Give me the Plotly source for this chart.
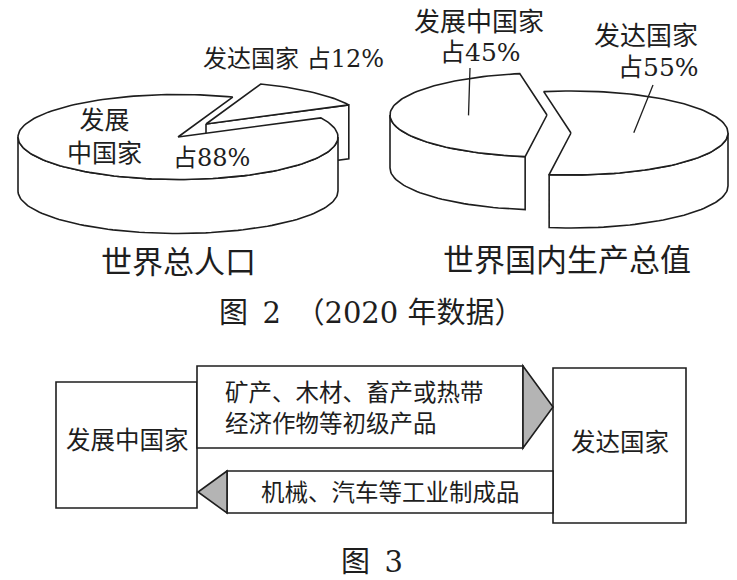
import numpy as np
import plotly.graph_objects as go

# ---------------- data ----------------
pie_groups = ["发展中国家", "发达国家"]
population_share = [88, 12]          # 世界总人口 (%)
gdp_share = [45, 55]                 # 世界国内生产总值 (%)
pie_titles = ["世界总人口", "世界国内生产总值"]
fig2_caption = "图\u20022\u3000（2020 年数据）"
flow_nodes = ["发展中国家", "发达国家"]
flow_exports = ["矿产、木材、畜产或热带", "经济作物等初级产品"]
flow_imports = ["机械、汽车等工业制成品"]
fig3_caption = "图\u20023"

# ---------------- style ----------------
W, H = 737, 580
INK = "#1e1e1e"
LW = 1.6
FONT = "DejaVu Serif, Noto Sans CJK SC"


def arc(cx, cy, rx, ry, a0, a1, dy=0.0):
    n = max(2, int(abs(a1 - a0) / 2) + 1)
    t = np.radians(np.linspace(a0, a1, n))
    return cx + rx * np.cos(t), cy - ry * np.sin(t) + dy


def solid(cx, cy, rx, ry, h, a0, a1, cut_faces):
    polys = []
    if cut_faces:
        for a, vis in ((a0, np.cos(np.radians(a0)) > 0), (a1, np.cos(np.radians(a1)) < 0)):
            if vis:
                ex = cx + rx * np.cos(np.radians(a))
                ey = cy - ry * np.sin(np.radians(a))
                polys.append(([cx, ex, ex, cx, cx], [cy, ey, ey + h, cy + h, cy]))
    for k in range(-1, 3):
        lo, hi = max(a0, 180 + 360 * k), min(a1, 360 + 360 * k)
        if hi > lo:
            xt, yt = arc(cx, cy, rx, ry, lo, hi)
            xb, yb = arc(cx, cy, rx, ry, hi, lo, dy=h)
            polys.append((np.concatenate([xt, xb, xt[:1]]), np.concatenate([yt, yb, yt[:1]])))
    xt, yt = arc(cx, cy, rx, ry, a0, a1)
    polys.append((np.concatenate([[cx], xt, [cx]]), np.concatenate([[cy], yt, [cy]])))
    return polys


fig = go.Figure()


def add_poly(x, y, fill="white"):
    fig.add_trace(go.Scatter(x=list(x), y=list(y), mode="lines", fill="toself",
                             fillcolor=fill, line=dict(color=INK, width=LW),
                             hoverinfo="skip", showlegend=False))


# pie specs: center, radii, thickness, start angle (developed slice first, CCW),
# pull per group [developing, developed], draw order
pies = [
    dict(shares=population_share, c=(178, 137), rx=160, ry=42.5, h=54, start=26.8,
         pull=[(0, 0), (28, -13)], order=[1, 0], cuts=True),
    dict(shares=gdp_share, c=(547, 115), rx=157, ry=42, h=53, start=262,
         pull=[(0, 0), (24, 18)], order=[0, 1], cuts=False),
]

slice_geo = []
for p in pies:
    dev, developed = p["shares"]
    spans = {1: (p["start"], p["start"] + developed * 3.6)}
    spans[0] = (spans[1][1], spans[1][1] + dev * 3.6)
    geo = {}
    for gi in p["order"]:
        a0, a1 = spans[gi]
        cx = p["c"][0] + p["pull"][gi][0]
        cy = p["c"][1] + p["pull"][gi][1]
        pulled = p["cuts"] and p["pull"][gi] != (0, 0)
        for x, y in solid(cx, cy, p["rx"], p["ry"], p["h"], a0, a1, pulled):
            add_poly(x, y)
        geo[gi] = (cx, cy, a0, a1)
    slice_geo.append(geo)

ann = []


def text(x, y, s, size, xanchor="center", align="center"):
    ann.append(dict(x=x, y=y, text=s, xref="x", yref="y", showarrow=False,
                    xanchor=xanchor, yanchor="middle", align=align,
                    font=dict(family=FONT, size=size, color=INK)))


# Pie 1 labels
text(293, 59, f"{pie_groups[1]} 占{population_share[1]}%", 24)
text(104, 137, pie_groups[0][:2] + "<br>" + pie_groups[0][2:], 25)
text(211, 158, f"占{population_share[0]}%", 24)
text(178, 262, pie_titles[0], 31)

# Pie 2 labels
text(479, 22, pie_groups[0], 26)
text(480, 52, f"占{gdp_share[0]}%", 25)
text(646, 36, pie_groups[1], 26)
text(658, 67, f"占{gdp_share[1]}%", 25)
text(567, 260, pie_titles[1], 31)

text(371, 313, fig2_caption, 29)

shapes = []
# leader lines for pie 2 (toward slice middles)
p2 = pies[1]
for gi, (sx, sy), frac in ((0, (470, 68), 0.5), (1, (653, 85), 0.4)):
    cx, cy, a0, a1 = slice_geo[1][gi]
    m = np.radians((a0 + a1) / 2)
    tx = cx + frac * p2["rx"] * np.cos(m)
    ty = cy - frac * p2["ry"] * np.sin(m)
    shapes.append(dict(type="line", xref="x", yref="y", x0=sx, y0=sy, x1=tx, y1=ty,
                       line=dict(color=INK, width=1.3)))

# ---------------- figure 3 flow diagram ----------------
box = dict(type="rect", xref="x", yref="y", fillcolor="white",
           line=dict(color=INK, width=LW), layer="below")
shapes.append(dict(box, x0=56, x1=197, y0=382, y1=508))
shapes.append(dict(box, x0=553, x1=686, y0=368, y1=523))
shapes.append(dict(box, x0=197, x1=523, y0=366, y1=448))
shapes.append(dict(box, x0=227, x1=553, y0=471, y1=513))
shapes.append(dict(type="path", xref="x", yref="y", path="M523,366 L553,407 L523,448 Z",
                   fillcolor="#b4b4b4", line=dict(color=INK, width=LW)))
shapes.append(dict(type="path", xref="x", yref="y", path="M227,471 L198,492 L227,513 Z",
                   fillcolor="#b4b4b4", line=dict(color=INK, width=LW)))

text(127, 440, flow_nodes[0], 24.5)
text(620, 442, flow_nodes[1], 24.5)
text(223, 408, "<br>".join(flow_exports), 23.5, xanchor="left", align="left")
text(390, 493, flow_imports[0], 23.5)
text(372, 562, fig3_caption, 29)

fig.update_layout(
    width=W, height=H, autosize=False,
    margin=dict(l=0, r=0, t=0, b=0),
    paper_bgcolor="white", plot_bgcolor="white",
    xaxis=dict(range=[0, W], visible=False, fixedrange=True),
    yaxis=dict(range=[H, 0], visible=False, fixedrange=True),
    annotations=ann, shapes=shapes, showlegend=False,
)

fig.write_html("out.html", config={"displayModeBar": False},
               post_script="document.body.style.margin='0';")
